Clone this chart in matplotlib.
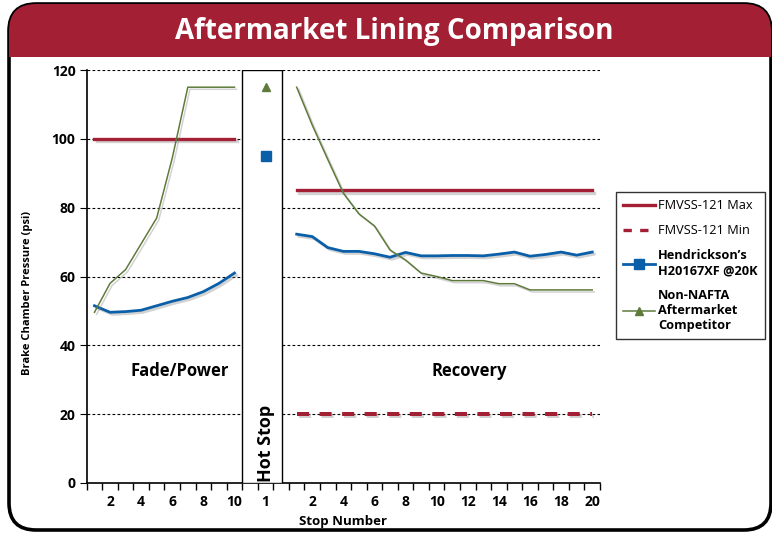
import matplotlib
matplotlib.use("Agg")
import numpy as np
from matplotlib import pyplot as plt
from matplotlib import patches
from matplotlib import patheffects as pe
from matplotlib.lines import Line2D

plt.rcParams['font.family'] = ['Open Sans', 'DejaVu Sans']

# chart data
fade_stops = list(range(1, 11))
recovery_stops = list(range(1, 21))
hot_stop_label = "1"

fmvss_max_fade = 100
fmvss_max_recovery = 85
fmvss_min_recovery = 20

hendrickson_fade = [51.5, 49.6, 49.8, 50.2, 51.5, 52.8, 53.9, 55.6, 58.0, 61.0]
competitor_fade = [49.6, 58.0, 62.0, 69.5, 77.0, 94.4, 115, 115, 115, 115]
hendrickson_hot = 95
competitor_hot = 115
hendrickson_recovery = [72.3, 71.6, 68.4, 67.3, 67.3, 66.6, 65.6, 67.0, 66.0, 66.0,
                        66.1, 66.1, 66.0, 66.5, 67.1, 65.9, 66.4, 67.1, 66.2, 67.1]
competitor_recovery = [115, 104, 94, 84.2, 78.2, 74.7, 67.7, 64.8, 61.0, 60.0,
                       58.8, 58.8, 58.8, 57.9, 57.9, 56.1, 56.1, 56.1, 56.1, 56.1]

y_ticks = [0, 20, 40, 60, 80, 100, 120]

# category positions: 10 fade, gap, hot stop, gap, 20 recovery
fade_x = np.arange(len(fade_stops))
hot_x = len(fade_stops) + 1
rec_x = np.arange(len(recovery_stops)) + hot_x + 2

RED = '#A31F34'
BLUE = '#0A5FA8'
GREEN = '#5E7B3C'

fig = plt.figure(figsize=(7.72, 5.35), dpi=100)
W, H = 772, 535

# card with rounded corners and red title band
card = patches.FancyBboxPatch((9 / W, 5 / H), 762 / W, 526 / H,
                              boxstyle="round,pad=0,rounding_size=0.035",
                              transform=fig.transFigure, facecolor='white',
                              edgecolor='black', linewidth=2.6, zorder=-3,
                              mutation_aspect=W / H)
fig.patches.append(card)
band = patches.Rectangle((0, (535 - 57) / H), 1, 57 / H, transform=fig.transFigure,
                         facecolor=RED, edgecolor='none', zorder=-2)
band.set_clip_path(card)
fig.patches.append(band)
fig.text(394 / W, (535 - 31) / H, "Aftermarket Lining Comparison", color='white',
         fontsize=20, fontweight='bold', ha='center', va='center')

ax = fig.add_axes([86.7 / W, (535 - 483) / H, (600 - 86.7) / W, (483 - 70) / H])
ax.set_facecolor('none')

shadow = [pe.SimpleLineShadow(offset=(1.5, -1.5), shadow_color='gray', alpha=0.35),
          pe.Normal()]

# reference lines
ax.plot(fade_x, [fmvss_max_fade] * len(fade_x), color=RED, lw=2.4,
        path_effects=shadow, zorder=4)
ax.plot(rec_x, [fmvss_max_recovery] * len(rec_x), color=RED, lw=2.4,
        path_effects=shadow, zorder=4)
ax.plot(rec_x, [fmvss_min_recovery] * len(rec_x), color=RED, lw=2.9,
        dashes=(3.0, 2.6), path_effects=shadow, zorder=4)

# test data
ax.plot(fade_x, hendrickson_fade, color=BLUE, lw=2.0, path_effects=shadow, zorder=5)
ax.plot(rec_x, hendrickson_recovery, color=BLUE, lw=2.0, path_effects=shadow, zorder=5)
ax.plot(fade_x, competitor_fade, color=GREEN, lw=1.1, path_effects=shadow, zorder=5)
ax.plot(rec_x, competitor_recovery, color=GREEN, lw=1.1, path_effects=shadow, zorder=5)
ax.plot([hot_x], [hendrickson_hot], marker='s', ms=7, color=BLUE, ls='none', zorder=6)
ax.plot([hot_x], [competitor_hot], marker='^', ms=6, color=GREEN, ls='none', zorder=6)

# hot stop box
ax.add_patch(patches.Rectangle((hot_x - 1.5, 0), 2.54, 120, facecolor='white',
                               edgecolor='black', lw=1.0, zorder=3))
ax.text(hot_x, 11.5, "Hot Stop", rotation=90, ha='center', va='center',
        fontsize=13, fontweight='bold', zorder=6)
ax.text(fade_x.mean() + 1, 32.5, "Fade/Power", ha='center', va='center',
        fontsize=12, fontweight='bold')
ax.text(rec_x.mean() + 1.6, 32.5, "Recovery", ha='center', va='center',
        fontsize=12, fontweight='bold')

# axes
ax.set_xlim(-0.5, rec_x[-1] + 0.5)
ax.set_ylim(0, 120)
ax.set_yticks(y_ticks)
ax.set_yticklabels([str(v) for v in y_ticks], fontsize=10, fontweight='bold')
for v in y_ticks[1:]:
    ax.axhline(v, color='black', lw=0.8, ls=(0, (2.5, 2)), zorder=1)

tick_pos = [fade_x[i] for i in range(1, len(fade_stops), 2)] + [hot_x] + \
           [rec_x[i] for i in range(1, len(recovery_stops), 2)]
tick_lab = [str(fade_stops[i]) for i in range(1, len(fade_stops), 2)] + [hot_stop_label] + \
           [str(recovery_stops[i]) for i in range(1, len(recovery_stops), 2)]
ax.set_xticks(tick_pos)
ax.set_xticklabels(tick_lab, fontsize=10, fontweight='bold')
ax.set_xticks(np.arange(-0.5, rec_x[-1] + 1, 1), minor=True)
ax.tick_params(axis='x', which='major', length=0, pad=9)
ax.tick_params(axis='x', which='minor', length=5, direction='out', width=1)
ax.tick_params(axis='y', length=5, direction='out', width=0.8, pad=3)
ax.spines['top'].set_visible(False)
ax.spines['right'].set_visible(False)
ax.spines['left'].set_linewidth(1.2)
ax.spines['bottom'].set_linewidth(1.2)
ax.set_ylabel("Brake Chamber Pressure (psi)", fontsize=8, fontweight='bold')
ax.yaxis.set_label_coords(-0.105, 0.46)
ax.set_xlabel("Stop Number", fontsize=9.5, fontweight='bold', labelpad=4)

# legend
handles = [
    Line2D([], [], color=RED, lw=2.4),
    Line2D([], [], color=RED, lw=2.4, dashes=(2.5, 2.5)),
    Line2D([], [], color=BLUE, lw=2.0, marker='s', ms=7),
    Line2D([], [], color=GREEN, lw=1.1, marker='^', ms=6),
]
labels = ["FMVSS-121 Max", "FMVSS-121 Min", "Hendrickson’s\nH20167XF @20K",
          "Non-NAFTA\nAftermarket\nCompetitor"]
leg = fig.legend(handles, labels, loc='upper left',
                 bbox_to_anchor=(616 / W, (535 - 192) / H), frameon=True,
                 fancybox=False, edgecolor='black', fontsize=9.2, handlelength=2.5,
                 handletextpad=0.25, borderpad=0.55, labelspacing=0.95,
                 borderaxespad=0)
leg.get_frame().set_linewidth(1.0)
for i, t in enumerate(leg.get_texts()):
    if i >= 2:
        t.set_fontweight('bold')
for lh in leg.legend_handles:
    if lh.get_marker() not in (None, 'None', ''):
        lh.set_markevery([1])

fig.savefig("out.png", dpi=100)
